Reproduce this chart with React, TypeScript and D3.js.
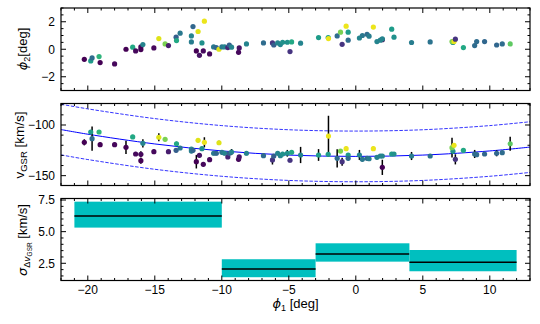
import React from 'react'
import * as d3 from 'd3'

// stars
const phi1 = [-20.26, -19.78, -19.68, -19.16, -19.08, -18.0, -17.15, -16.65, -16.43, -16.04, -16.04, -15.89, -15.07, -14.7, -14.23, -13.98, -13.41, -13.38, -13.11, -12.27, -12.27, -12.15, -11.77, -11.3, -11.9, -11.67, -11.38, -11.48, -10.91, -10.61, -10.41, -10.21,
  -9.99, -9.79, -9.55, -9.44, -9.27, -8.75, -8.7, -8.16, -6.89, -6.22, -6.12, -5.83, -5.63, -5.46, -5.11, -4.79, -4.91, -4.12, -2.78, -2.06, -2.04, -1.39, -1.14, -0.72, -0.57, -1.02, -0.57, 0.27, 0.49, 0.84, 0.99, 1.31,
  1.98, 2.68, 2.85, 1.58, 1.83, 1.98, 4.16, 5.55, 7.25, 7.18, 7.33, 7.43, 8.03, 8.87, 9.02, 9.61, 10.51, 10.93, 11.52]
const phi2 = [-0.73, -0.85, -0.63, -0.53, -0.97, -1.07, 0.0, 0.15, -0.12, 0.17, -0.02, 0.34, 0.1, 0.78, 0.39, 0.27, 0.88, 0.63, 1.17, 0.97, 0.53, 1.65, 1.29, 2.04, -0.12, -0.44, -0.12, 0.46, -0.34, 0.17, 0.12, 0.0,
  0.17, 0.17, 0.12, 0.31, 0.15, -0.22, 0.1, 0.39, 0.46, 0.46, 0.31, 0.46, 0.34, 0.51, 0.51, 0.53, -0.17, 0.44, 0.85, 0.85, 0.78, 0.97, 1.24, 1.68, 1.24, 0.36, 0.66, 0.82, 1.0, 1.09, 0.95, 1.61,
  0.7, 1.46, 0.88, 0.56, 0.66, 0.75, 0.49, 0.53, 0.5, 0.56, 0.56, 0.73, 0.12, 0.27, 0.56, 0.56, 0.31, 0.39, 0.39]
const vgsr = [-117.1, -106.9, -113.5, -106.9, -119.4, -119.4, -122.0, -111.8, -128.6, -128.9, -135.2, -118.1, -126.3, -112.1, -114.1, -126.3, -125.0, -118.5, -122.7, -123.7, -125.7, -125.0, -115.1, -117.1, -136.2, -129.9, -138.8, -123.4, -134.2, -127.9, -127.9, -117.5,
  -127.0, -127.9, -131.6, -127.9, -126.7, -133.9, -131.5, -127.9, -130.3, -134.5, -130.6, -127.9, -130.3, -128.6, -127.9, -126.9, -134.8, -129.6, -129.6, -128.9, -110.9, -132.9, -125.7, -123.4, -129.6, -136.2, -132.9, -129.6, -133.9, -132.9, -133.3, -123.4,
  -141.8, -128.6, -128.6, -131.9, -130.6, -130.6, -130.6, -130.6, -126.0, -122.4, -120.0, -133.9, -125.0, -128.6, -129.3, -128.6, -127.9, -127.3, -118.5]
const vErr = [3, 2, 12, 2, 2, 2, 6.5, 2, 2, 3, 3, 4, 2, 4, 2, 2, 2, 2, 2, 2, 2, 2, 2, 5, 6.7, 2, 2, 2, 2, 2, 2, 2,
  2, 2, 2, 2, 3, 2, 2, 2, 2, 4.5, 2, 2, 2, 2, 3.3, 2, 2, 8, 5.8, 2, 20, 9, 2, 2, 2, 4, 2, 5, 2, 2, 2, 2,
  7.5, 2, 2, 2, 2, 2, 4, 2, 2, 9.7, 2, 5, 2, 4, 2, 2, 3, 2, 7]
const colorVal = [0.0, 0.55, 0.35, 0.65, 0.0, 0.02, 0.0, 0.6, 0.02, 0.02, 0.0, 0.45, 0.02, 0.95, 0.8, 0.08, 0.3, 0.6, 0.4, 0.45, 0.42, 0.33, 0.95, 0.97, 0.0, 0.05, 0.02, 0.5, 0.02, 0.4, 0.33, 0.95,
  0.4, 0.45, 0.1, 0.3, 0.45, 0.02, 0.05, 0.45, 0.35, 0.15, 0.3, 0.45, 0.45, 0.5, 0.5, 0.6, 0.15, 0.45, 0.55, 0.55, 0.97, 0.35, 0.8, 0.97, 0.55, 0.15, 0.35, 0.45, 0.4, 0.35, 0.42, 0.97,
  0.0, 0.55, 0.5, 0.45, 0.45, 0.45, 0.42, 0.38, 0.5, 0.8, 0.97, 0.15, 0.6, 0.35, 0.35, 0.33, 0.33, 0.35, 0.75]

// stream track in v_GSR
const trackPhi1 = [-22, -20, -15, -10, -5, 0, 5, 10, 13]
const trackV = [-104.5, -109.1, -118.7, -125.6, -129.7, -131.0, -129.7, -125.6, -121.8]
const trackWidth = 25

// dispersion bins
const binLo = [-21, -10, -3, 4]
const binHi = [-10, -3, 4, 12]
const sigMed = [6.24, 2.05, 3.24, 2.58]
const sigLo = [5.32, 1.4, 2.63, 1.87]
const sigHi = [7.37, 2.82, 4.08, 3.55]

const W = 540, H = 324
const L = 61, R = 530
const FONT = '"Liberation Sans", Arial, sans-serif'

const x = d3.scaleLinear().domain([-22, 13]).range([L, R])
const yTop = d3.scaleLinear().domain([-3, 3]).range([90.5, 8])
const yMid = d3.scaleLinear().domain([-159.7, -78.8]).range([185.5, 103.5])
const yBot = d3.scaleLinear().domain([1.14, 7.62]).range([280.5, 198.5])

const fmt = (v: number, digits = 0) => (v < 0 ? '\u2212' : '') + Math.abs(v).toFixed(digits)

const xMajor = d3.range(-20, 11, 5)
const xMinor = d3.range(-22, 14, 1).filter(v => v % 5 !== 0)

function Frame({ y, yMajor, yMinor, yDigits, showX }: any) {
  const [y1, y0] = y.range()
  const maj = 5, mnr = 2.5
  return (
    <g>
      {xMajor.map(v => (
        <g key={'xM' + v}>
          <line x1={x(v)} x2={x(v)} y1={y1} y2={y1 - maj} stroke="black" />
          <line x1={x(v)} x2={x(v)} y1={y0} y2={y0 + maj} stroke="black" />
        </g>
      ))}
      {xMinor.map(v => (
        <g key={'xm' + v}>
          <line x1={x(v)} x2={x(v)} y1={y1} y2={y1 - mnr} stroke="black" />
          <line x1={x(v)} x2={x(v)} y1={y0} y2={y0 + mnr} stroke="black" />
        </g>
      ))}
      {yMajor.map((v: number) => (
        <g key={'yM' + v}>
          <line x1={L} x2={L + maj} y1={y(v)} y2={y(v)} stroke="black" />
          <line x1={R} x2={R - maj} y1={y(v)} y2={y(v)} stroke="black" />
          <text x={L - 6} y={y(v)} dy="0.36em" textAnchor="end" fontSize={12} fontFamily={FONT}>{fmt(v, yDigits)}</text>
        </g>
      ))}
      {yMinor.map((v: number) => (
        <g key={'ym' + v}>
          <line x1={L} x2={L + mnr} y1={y(v)} y2={y(v)} stroke="black" />
          <line x1={R} x2={R - mnr} y1={y(v)} y2={y(v)} stroke="black" />
        </g>
      ))}
      {showX && xMajor.map(v => (
        <text key={'xl' + v} x={x(v)} y={294} textAnchor="middle" fontSize={12} fontFamily={FONT}>{fmt(v)}</text>
      ))}
      <rect x={L} y={y0} width={R - L} height={y1 - y0} fill="none" stroke="black" strokeWidth={1.2} />
    </g>
  )
}

export default function App() {
  const idx = d3.range(phi1.length)
  const color = (c: number) => d3.interpolateViridis(c)
  const trackLine = d3.line<number>().x((_, i) => x(trackPhi1[i])).curve(d3.curveCatmullRom)
  const mid = trackLine.y((v) => yMid(v))(trackV)
  const up = d3.line<number>().x((_, i) => x(trackPhi1[i])).y(v => yMid(v + trackWidth)).curve(d3.curveCatmullRom)(trackV)
  const lo = d3.line<number>().x((_, i) => x(trackPhi1[i])).y(v => yMid(v - trackWidth)).curve(d3.curveCatmullRom)(trackV)
  const r = 2.6

  const topMinor = d3.range(-3, 3.01, 0.5).map(v => Math.round(v * 10) / 10).filter(v => v % 2 !== 0)
  const midMinor = d3.range(-150, -79, 10).filter(v => v % 50 !== 0)
  const botMinor = d3.range(1.5, 7.61, 0.5).map(v => Math.round(v * 10) / 10).filter(v => Math.abs(v / 2.5 - Math.round(v / 2.5)) > 1e-6)

  return (
    <svg width={W} height={H} style={{ position: 'absolute', left: 0, top: 0, background: 'white' }}>
      <defs>
        <clipPath id="clipMid"><rect x={L} y={103.5} width={R - L} height={82} /></clipPath>
      </defs>

      {/* top: phi2 */}
      {idx.map(i => (
        <circle key={'p' + i} cx={x(phi1[i])} cy={yTop(phi2[i])} r={r} fill={color(colorVal[i])} />
      ))}
      <Frame y={yTop} yMajor={[-2, 0, 2]} yMinor={topMinor} yDigits={0} />

      {/* middle: v_GSR */}
      <g clipPath="url(#clipMid)">
        <path d={up!} fill="none" stroke="blue" strokeWidth={1} strokeDasharray="3.5,1.5" opacity={0.8} />
        <path d={lo!} fill="none" stroke="blue" strokeWidth={1} strokeDasharray="3.5,1.5" opacity={0.8} />
        <path d={mid!} fill="none" stroke="blue" strokeWidth={1} />
      </g>
      {idx.map(i => (
        <line key={'e' + i} x1={x(phi1[i])} x2={x(phi1[i])} y1={yMid(vgsr[i] - vErr[i])} y2={yMid(vgsr[i] + vErr[i])} stroke="black" strokeWidth={1.5} />
      ))}
      {idx.map(i => (
        <circle key={'v' + i} cx={x(phi1[i])} cy={yMid(vgsr[i])} r={r} fill={color(colorVal[i])} />
      ))}
      <Frame y={yMid} yMajor={[-150, -100]} yMinor={midMinor} yDigits={0} />

      {/* bottom: dispersion */}
      {binLo.map((b, i) => (
        <g key={'b' + i}>
          <rect x={x(b)} width={x(binHi[i]) - x(b)} y={yBot(sigHi[i])} height={yBot(sigLo[i]) - yBot(sigHi[i])} fill="#00bfbf" />
          <line x1={x(b)} x2={x(binHi[i])} y1={yBot(sigMed[i])} y2={yBot(sigMed[i])} stroke="black" strokeWidth={1.5} />
        </g>
      ))}
      <Frame y={yBot} yMajor={[2.5, 5, 7.5]} yMinor={botMinor} yDigits={1} showX />

      {/* axis labels */}
      <text transform="translate(27,49) rotate(-90)" textAnchor="middle" fontSize={13} fontFamily={FONT}>
        <tspan fontStyle="italic" fontFamily="DejaVu Sans">ϕ</tspan><tspan fontSize={9} dy={3}>2</tspan><tspan dy={-3}>[deg]</tspan>
      </text>
      <text transform="translate(24,145) rotate(-90)" textAnchor="middle" fontSize={13.5} fontFamily={FONT}>
        <tspan>v</tspan><tspan fontSize={9.5} dy={3}>GSR</tspan><tspan dy={-3}> [km/s]</tspan>
      </text>
      <text transform="translate(27,240) rotate(-90)" textAnchor="middle" fontSize={13} fontFamily={FONT}>
        <tspan fontStyle="italic" fontFamily="DejaVu Sans">σ</tspan><tspan fontSize={9} dy={3}>Δ</tspan><tspan fontSize={9} fontStyle="italic" fontFamily="DejaVu Sans">v</tspan><tspan fontSize={6.5} dy={1.5}>GSR</tspan><tspan dy={-4.5}> [km/s]</tspan>
      </text>
      <text x={295.5} y={308} textAnchor="middle" fontSize={13} fontFamily={FONT}>
        <tspan fontStyle="italic" fontFamily="DejaVu Sans">ϕ</tspan><tspan fontSize={9} dy={3}>1</tspan><tspan dy={-3}> [deg]</tspan>
      </text>
    </svg>
  )
}
